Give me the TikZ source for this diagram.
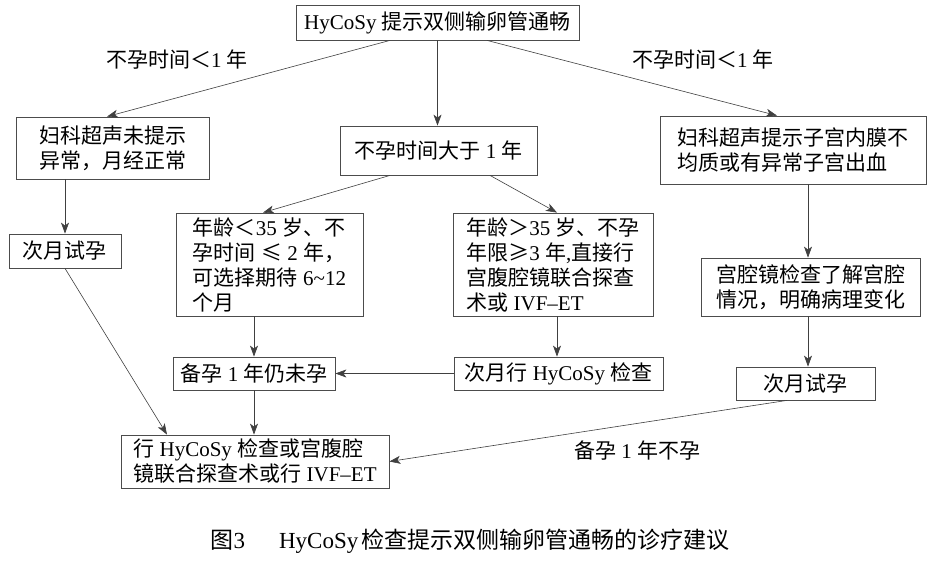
\documentclass[tikz,border=0pt]{standalone}
\usepackage{fontspec}
\setmainfont{Liberation Serif}
\newfontfamily\cjk{Noto Sans CJK SC}
\newcommand\C[1]{{\cjk #1}}
\usetikzlibrary{arrows.meta}
\tikzset{
  box/.style={draw=black!70, line width=0.8pt, inner sep=0pt, align=left,
              font=\fontsize{21}{25}\selectfont},
  arr/.style={draw=black!75, line width=0.6pt,
              -{Stealth[length=11pt,width=8pt,inset=3pt]}},
  lbl/.style={font=\fontsize{21}{25}\selectfont, inner sep=0pt}
}
\begin{document}
\begin{tikzpicture}[x=1pt,y=-1pt]
\useasboundingbox[fill=white] (0,0) rectangle (934,561);
\node[box, minimum width=283pt, minimum height=35pt] (top) at (437.5,22.5)
  {HyCoSy \C{提示双侧输卵管通畅}};
\node[box, minimum width=193pt, minimum height=62pt, align=center] (L) at (112.5,148)
  {\C{妇科超声未提示}\\\C{异常，月经正常}};
\node[box, minimum width=197pt, minimum height=49pt] (M) at (438.5,150.5)
  {\C{不孕时间大于} 1 \C{年}};
\node[box, minimum width=266pt, minimum height=68pt] (R) at (793,150)
  {\C{妇科超声提示子宫内膜不}\\\C{均质或有异常子宫出血}};
\node[box, minimum width=112pt, minimum height=34pt] (L2) at (65,251)
  {\C{次月试孕}};
\node[box, minimum width=187pt, minimum height=103pt] (A) at (269.5,264.5)
  {\C{年龄＜}35 \C{岁、不}\\\C{孕时间} \C{≤} 2 \C{年，}\\\C{可选择期待} 6\textasciitilde12\\\C{个月}};
\node[box, minimum width=200pt, minimum height=103pt] (B) at (553,264.5)
  {\C{年龄＞}35 \C{岁、不孕}\\\C{年限≥}3 \C{年},\C{直接行}\\\C{宫腹腔镜联合探查}\\\C{术或} IVF--ET};
\node[box, minimum width=219pt, minimum height=58pt] (R2) at (810.5,287)
  {\C{宫腔镜检查了解宫腔}\\\C{情况，明确病理变化}};
\node[box, minimum width=162pt, minimum height=33pt] (C) at (254,373.5)
  {\C{备孕} 1 \C{年仍未孕}};
\node[box, minimum width=209pt, minimum height=33pt] (D) at (558.5,373.5)
  {\C{次月行} HyCoSy \C{检查}};
\node[box, minimum width=139pt, minimum height=33pt] (R3) at (805.5,383.5)
  {\C{次月试孕}};
\node[box, minimum width=268pt, minimum height=53pt] (E) at (255,461.5)
  {\C{行} HyCoSy \C{检查或宫腹腔}\\\C{镜联合探查术或行} IVF--ET};

\node[lbl] (l1) at (177,60) {\C{不孕时间＜}1 \C{年}};
\node[lbl] (l2) at (703,60) {\C{不孕时间＜}1 \C{年}};
\node[lbl] (l3) at (637,451) {\C{备孕} 1 \C{年不孕}};
\node[lbl, font=\fontsize{23}{27}\selectfont] (cap) at (470,541)
  {\C{图}3\hspace{34pt}HyCoSy\hspace{3pt}\C{检查提示双侧输卵管通畅的诊疗建议}};

\draw[arr] ([xshift=-47.5pt]top.south) -- ([xshift=-5.5pt]L.north);
\draw[arr] (top.south) -- (top.south |- M.north);
\draw[arr] ([xshift=49.5pt]top.south) -- ([xshift=-16pt]R.north);
\draw[arr] ([xshift=-48.5pt]M.south) -- ([xshift=-6.5pt]A.north);
\draw[arr] ([xshift=51.5pt]M.south) -- ([xshift=4pt]B.north);
\draw[arr] (L2.north |- L.south) -- (L2.north);
\draw[arr] (C.north |- A.south) -- (C.north);
\draw[arr] ([xshift=4pt]B.south) -- ([xshift=4pt]B.south |- D.north);
\draw[arr] (D.west) -- (C.east);
\draw[arr] ([xshift=15pt]R.south) -- ([xshift=15pt]R.south |- R2.north);
\draw[arr] ([xshift=-2.5pt]R2.south) -- ([xshift=-2.5pt]R2.south |- R3.north);
\draw[arr] ([xshift=-18.5pt]R3.south) -- (E.east);
\draw[arr] (L2.south) -- ([xshift=-88pt]E.north);
\draw[arr] (C.south) -- (C.south |- E.north);
\end{tikzpicture}
\end{document}
